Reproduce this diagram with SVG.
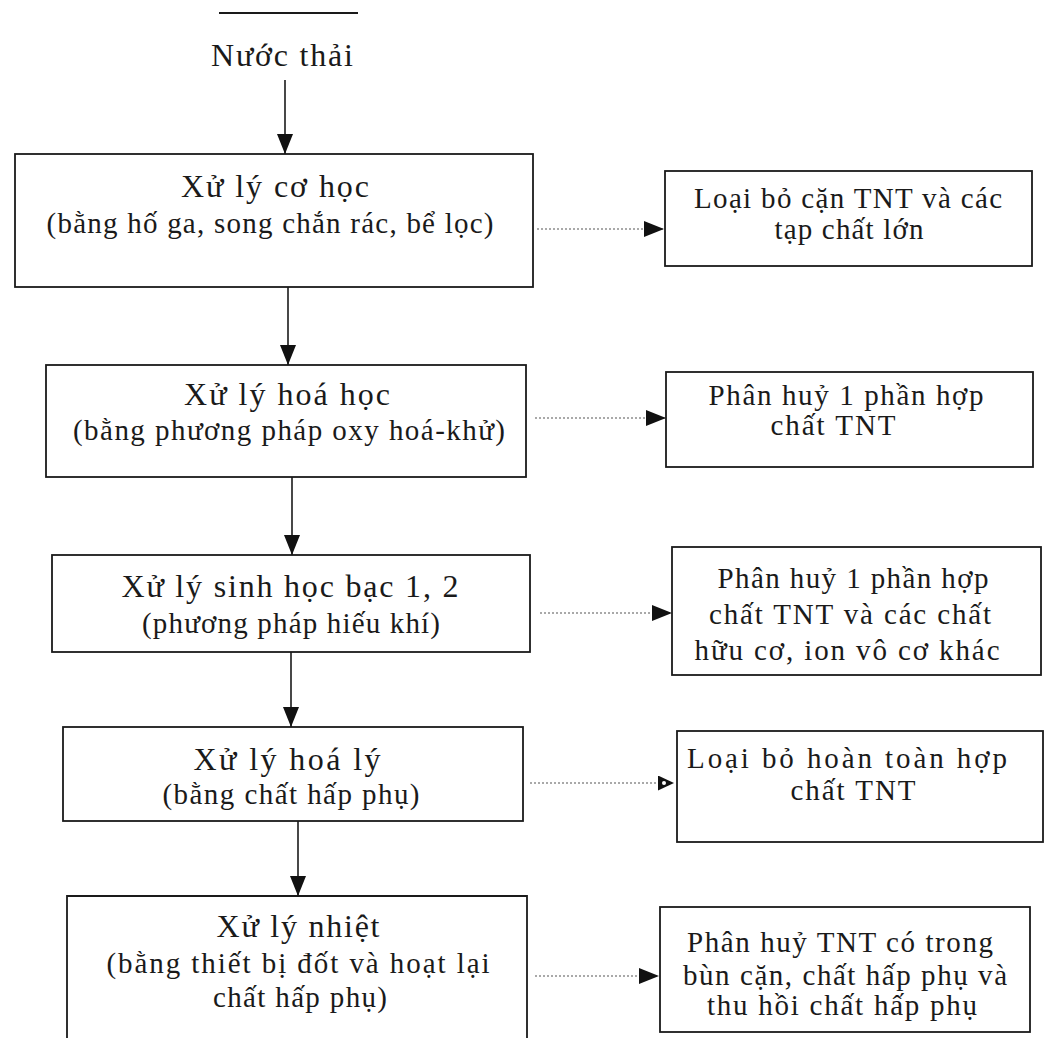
<svg xmlns="http://www.w3.org/2000/svg" width="1045" height="1038" viewBox="0 0 1045 1038">
<style>
.box{fill:none;stroke:#1a1a1a;stroke-width:1.8}
.flow{stroke:#1a1a1a;stroke-width:1.6;fill:none}
.dot{stroke:#555;stroke-width:1.2;stroke-dasharray:2 2;fill:none}
text{font-family:"Liberation Serif","Times New Roman",serif;fill:#1a1a1a;text-anchor:middle}
.t{font-size:32px}
.s{font-size:29px}
</style>
<defs>
<marker id="ah" viewBox="0 0 20 16" refX="20" refY="8" markerWidth="20" markerHeight="16" markerUnits="userSpaceOnUse" orient="auto">
<path d="M0,0 L20,8 L0,16 z" fill="#111"/>
</marker>
<marker id="ahs" viewBox="0 0 16 15" refX="16" refY="7.5" markerWidth="16" markerHeight="15" markerUnits="userSpaceOnUse" orient="auto">
<path d="M0,0 L16,7.5 L0,15 z" fill="#111"/>
<circle cx="6" cy="7.5" r="2" fill="#fff"/>
</marker>
</defs>
<line x1="219" y1="13" x2="358" y2="13" stroke="#1a1a1a" stroke-width="2"/>
<g id="start">
<text class="t" x="282" y="66" textLength="142" lengthAdjust="spacing">Nước thải</text>
</g>
<g id="n1">
<rect class="box" x="15" y="154" width="518" height="133"/>
<text class="t" x="275" y="197" textLength="188" lengthAdjust="spacing">Xử lý cơ học</text>
<text class="s" x="270" y="233" textLength="447" lengthAdjust="spacing">(bằng hố ga, song chắn rác, bể lọc)</text>
</g>
<g id="n2">
<rect class="box" x="46" y="365" width="480" height="112"/>
<text class="t" x="287" y="405" textLength="206" lengthAdjust="spacing">Xử lý hoá học</text>
<text class="s" x="289" y="440" textLength="432" lengthAdjust="spacing">(bằng phương pháp oxy hoá-khử)</text>
</g>
<g id="n3">
<rect class="box" x="52" y="555" width="478" height="97"/>
<text class="t" x="290" y="597" textLength="337" lengthAdjust="spacing">Xử lý sinh học bạc 1, 2</text>
<text class="s" x="291" y="633" textLength="298" lengthAdjust="spacing">(phương pháp hiếu khí)</text>
</g>
<g id="n4">
<rect class="box" x="63" y="727" width="460" height="94"/>
<text class="t" x="287" y="770" textLength="187" lengthAdjust="spacing">Xử lý hoá lý</text>
<text class="s" x="291" y="804" textLength="257" lengthAdjust="spacing">(bằng chất hấp phụ)</text>
</g>
<g id="n5">
<path class="box" d="M67,1040 V896 H527 V1040"/>
<text class="t" x="298" y="937" textLength="163" lengthAdjust="spacing">Xử lý nhiệt</text>
<text class="s" x="298" y="973" textLength="383" lengthAdjust="spacing">(bằng thiết bị đốt và hoạt lại</text>
<text class="s" x="300" y="1007" textLength="174" lengthAdjust="spacing">chất hấp phụ)</text>
</g>
<g id="r1">
<rect class="box" x="665" y="171" width="367" height="95"/>
<text class="s" x="848" y="208" textLength="308" lengthAdjust="spacing">Loại bỏ cặn TNT và các</text>
<text class="s" x="849" y="239" textLength="149" lengthAdjust="spacing">tạp chất lớn</text>
</g>
<g id="r2">
<rect class="box" x="666" y="372" width="367" height="95"/>
<text class="s" x="846" y="405" textLength="275" lengthAdjust="spacing">Phân huỷ 1 phần hợp</text>
<text class="s" x="833" y="435" textLength="125" lengthAdjust="spacing">chất TNT</text>
</g>
<g id="r3">
<rect class="box" x="672" y="547" width="369" height="128"/>
<text class="s" x="853" y="588" textLength="271" lengthAdjust="spacing">Phân huỷ 1 phần hợp</text>
<text class="s" x="850" y="624" textLength="282" lengthAdjust="spacing">chất TNT và các chất</text>
<text class="s" x="847" y="660" textLength="305" lengthAdjust="spacing">hữu cơ, ion vô cơ khác</text>
</g>
<g id="r4">
<rect class="box" x="677" y="731" width="366" height="111"/>
<text class="s" x="847" y="768" textLength="320" lengthAdjust="spacing">Loại bỏ hoàn toàn hợp</text>
<text class="s" x="853" y="800" textLength="125" lengthAdjust="spacing">chất TNT</text>
</g>
<g id="r5">
<rect class="box" x="660" y="907" width="370" height="125"/>
<text class="s" x="840" y="952" textLength="306" lengthAdjust="spacing">Phân huỷ TNT có trong</text>
<text class="s" x="845" y="985" textLength="324" lengthAdjust="spacing">bùn cặn, chất hấp phụ và</text>
<text class="s" x="842" y="1015" textLength="270" lengthAdjust="spacing">thu hồi chất hấp phụ</text>
</g>
<g id="connectors">
<line class="flow" x1="285" y1="80" x2="285" y2="154" marker-end="url(#ah)"/>
<line class="flow" x1="288" y1="287" x2="288" y2="365" marker-end="url(#ah)"/>
<line class="flow" x1="292" y1="477" x2="292" y2="555" marker-end="url(#ah)"/>
<line class="flow" x1="291" y1="652" x2="291" y2="727" marker-end="url(#ah)"/>
<line class="flow" x1="298" y1="821" x2="298" y2="896" marker-end="url(#ah)"/>
<line class="dot" x1="537" y1="229" x2="664" y2="229" marker-end="url(#ah)"/>
<line class="dot" x1="535" y1="418" x2="666" y2="418" marker-end="url(#ah)"/>
<line class="dot" x1="540" y1="613" x2="672" y2="613" marker-end="url(#ah)"/>
<line class="dot" x1="530" y1="783" x2="674" y2="783" marker-end="url(#ahs)"/>
<line class="dot" x1="535" y1="976" x2="659" y2="976" marker-end="url(#ah)"/>
</g>
</svg>
